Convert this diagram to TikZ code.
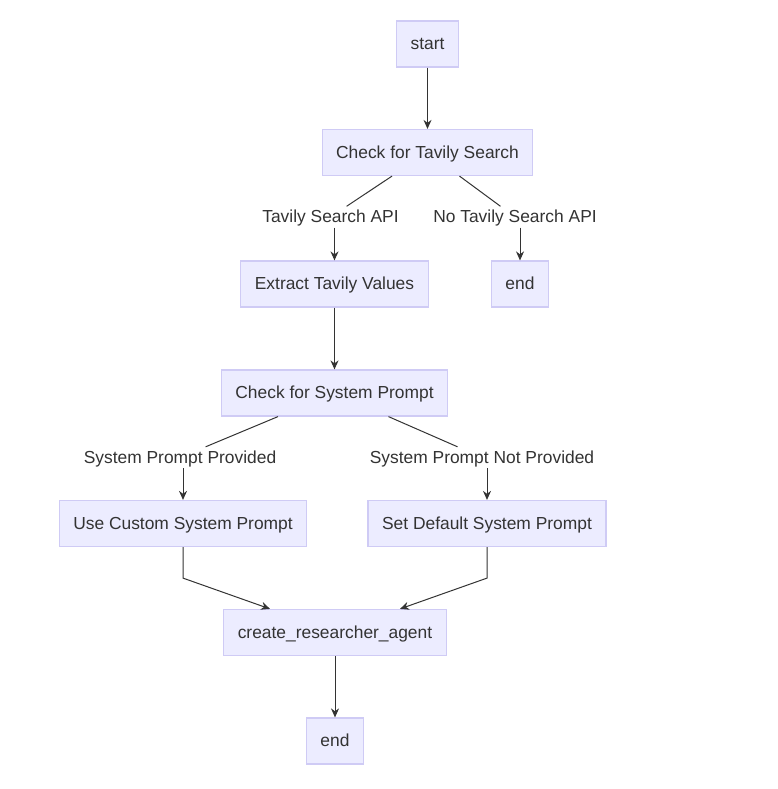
\documentclass[tikz,border=0pt]{standalone}
\usepackage{fontspec}
\setmainfont{Liberation Sans}
\usetikzlibrary{arrows.meta,calc}
\definecolor{nodefill}{HTML}{ECECFF}
\definecolor{nodeline}{HTML}{CFCBF5}
\definecolor{ink}{HTML}{333333}
\tikzset{
  box/.style={draw=nodeline, fill=nodefill, line width=1.2pt, minimum height=46pt, inner xsep=14pt, text height=13pt, text depth=2pt, text=ink, font=\fontsize{17.4}{20}\selectfont},
  lbl/.style={fill=white, inner xsep=1pt, inner ysep=3pt, text height=13pt, text depth=2pt, text=ink, font=\fontsize{17.4}{20}\selectfont},
  conn/.style={draw=ink, line width=1pt},
  arr/.style={conn, -{Stealth[length=9pt,width=8pt]}}
}
\begin{document}
\begin{tikzpicture}[x=1pt,y=-1pt]
\useasboundingbox[fill=white] (0,0) rectangle (778,789);
\node[box] (start) at (427.5,44) {start};
\node[box] (chk) at (427.5,152.5) {Check for Tavily Search};
\node[lbl] (l1) at (330.5,217) {Tavily Search API};
\node[lbl] (l2) at (515,217) {No Tavily Search API};
\node[box] (ext) at (334.5,284) {Extract Tavily Values};
\node[box] (end1) at (520,284) {end};
\node[box] (sys) at (334.5,393) {Check for System Prompt};
\node[lbl] (l3) at (180,457.5) {System Prompt Provided};
\node[lbl] (l4) at (482,457.5) {System Prompt Not Provided};
\node[box] (use) at (183,523.5) {Use Custom System Prompt};
\node[box] (def) at (487,523.5) {Set Default System Prompt};
\node[box] (cra) at (335,632.5) {create\_researcher\_agent};
\node[box] (end2) at (335,741) {end};

\draw[arr] (start) -- (chk);
\draw[conn] (chk) -- (l1);
\draw[conn] (chk) -- (l2);
\draw[arr] (l1.south -| ext.north) -- (ext.north);
\draw[arr] (l2.south -| end1.north) -- (end1.north);
\draw[arr] (ext) -- (sys);
\draw[conn] (sys) -- (l3);
\draw[conn] (sys) -- (l4);
\draw[arr] (l3.south -| use.north) -- (use.north);
\draw[arr] (l4.south -| def.north) -- (def.north);
\draw[arr] (use.south) -- ++(0,31) -- ($(cra.north)+(-65,0)$);
\draw[arr] (def.south) -- ++(0,31) -- ($(cra.north)+(65,0)$);
\draw[arr] (cra) -- (end2);
\end{tikzpicture}
\end{document}
